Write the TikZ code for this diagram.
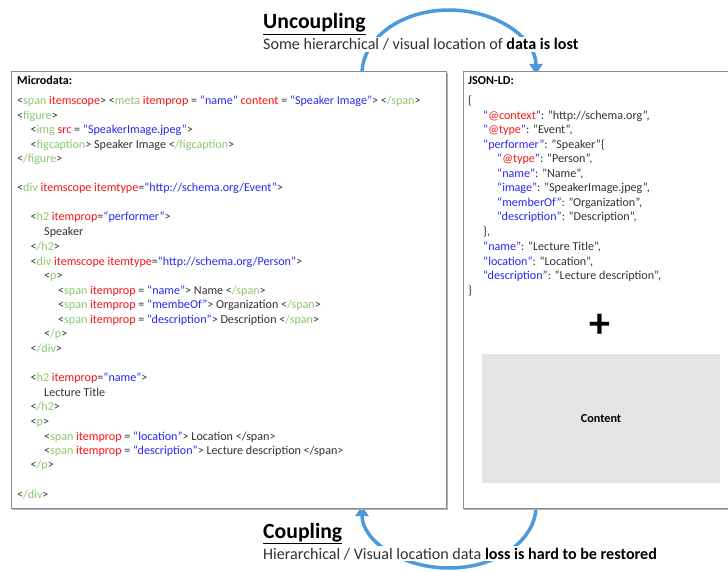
\documentclass[tikz,border=0pt]{standalone}
\usepackage{fontspec}
\setmainfont{Carlito}
\usetikzlibrary{arrows.meta}
\definecolor{tagc}{RGB}{140,200,110}
\definecolor{attc}{RGB}{250,20,20}
\definecolor{valc}{RGB}{40,40,245}
\definecolor{txtc}{RGB}{50,50,50}
\definecolor{arcc}{RGB}{75,155,220}
\definecolor{boxc}{RGB}{140,140,140}
\newcommand{\tg}[1]{\textcolor{tagc}{#1}}
\newcommand{\at}[1]{\textcolor{attc}{#1}}
\newcommand{\vl}[1]{\textcolor{valc}{#1}}
\tikzset{
  code/.style={anchor=base west, inner sep=0pt, text=txtc, font=\fontsize{12.1}{14}\selectfont},
  panel/.style={draw=boxc, line width=1pt},
  shade/.style={draw=black!30, line width=1.2pt},
  loop/.style={draw=arcc, line width=3.5pt},
  title/.style={anchor=base west, inner sep=0pt, text=black, font=\fontsize{21.7}{26}\selectfont\bfseries},
  sub/.style={anchor=base west, inner sep=1.5pt, fill=white, text=txtc, font=\fontsize{16.1}{19}\selectfont},
}
\begin{document}
\begin{tikzpicture}[x=1pt,y=-1pt]
\clip (0,0) rectangle (728,572);
\fill[white] (0,0) rectangle (728,572);
% arcs
\draw[loop,-{Triangle[width=13pt,length=10pt]}] (362,74) arc[start angle=180,end angle=360,x radius=87,y radius=64] coordinate (ua);
\draw[loop,-{Triangle[width=13pt,length=10pt]}] (536,506) arc[start angle=0,end angle=180,x radius=87,y radius=62] coordinate (la);
% panels
\draw[shade] (12,509) -- (447,509) -- (447,73);
\draw[shade] (464,509) -- (745,509);
\draw[panel,fill=white] (11,72) rectangle (446,508);
\draw[panel,fill=white] (463,72) rectangle (745,508);
\fill[black!10] (482,354) rectangle (720,483);
\node[font=\fontsize{12.2}{14}\selectfont\bfseries] (content) at (601,419) {Content};
\node[font=\fontsize{42}{44}\selectfont\bfseries] (plus) at (600,326) {+};
% titles
\node[title] (t1) at (263,29) {\underline{Uncoupling}};
\node[sub] (s1) at (261.5,50) {Some hierarchical / visual location of \textbf{\color{black}data is lost}};
\node[title] (t2) at (263,538) {\underline{Coupling}};
\node[sub] (s2) at (261.5,559) {Hierarchical / Visual location data \textbf{\color{black}loss is hard to be restored}};
% microdata
\node[code,font=\fontsize{12.1}{14}\selectfont\bfseries,text=black] (m0) at (17,85) {Microdata:};
\node[code] (m1) at (17,105) {<\tg{span} \at{itemscope}> <\tg{meta} \at{itemprop} = \vl{“name”} \at{content} = \vl{“Speaker Image”}> <\tg{/span}>};
\node[code] (m2) at (17,120) {<\tg{figure}>};
\node[code] (m3) at (30.5,134) {<\tg{img} \at{src} = \vl{“SpeakerImage.jpeg”}>};
\node[code] (m4) at (30.5,149) {<\tg{figcaption}> Speaker Image <\tg{/figcaption}>};
\node[code] (m5) at (17,163) {<\tg{/figure}>};
\node[code] (m6) at (17,192) {<\tg{div} \at{itemscope itemtype}=\vl{“http://schema.org/Event”}>};
\node[code] (m7) at (30.5,221) {<\tg{h2} \at{itemprop}=\vl{“performer”}>};
\node[code] (m8) at (44,236) {Speaker};
\node[code] (m9) at (30.5,250) {<\tg{/h2}>};
\node[code] (m10) at (30.5,265) {<\tg{div} \at{itemscope itemtype}=\vl{“http://schema.org/Person”}>};
\node[code] (m11) at (44,279) {<\tg{p}>};
\node[code] (m12) at (58,294) {<\tg{span} \at{itemprop} = \vl{“name”}> Name <\tg{/span}>};
\node[code] (m13) at (58,308) {<\tg{span} \at{itemprop} = \vl{“membeOf”}> Organization <\tg{/span}>};
\node[code] (m14) at (58,323) {<\tg{span} \at{itemprop} = \vl{“description”}> Description <\tg{/span}>};
\node[code] (m15) at (44,337) {<\tg{/p}>};
\node[code] (m16) at (30.5,352) {<\tg{/div}>};
\node[code] (m17) at (30.5,381) {<\tg{h2} \at{itemprop}=\vl{“name”}>};
\node[code] (m18) at (44,396) {Lecture Title};
\node[code] (m19) at (30.5,410) {<\tg{/h2}>};
\node[code] (m20) at (30.5,425) {<\tg{p}>};
\node[code] (m21) at (44,440) {<\tg{span} \at{itemprop} = \vl{“location”}> Location </span>};
\node[code] (m22) at (44,454) {<\tg{span} \at{itemprop} = \vl{“description”}> Lecture description </span>};
\node[code] (m23) at (30.5,468) {<\tg{/p}>};
\node[code] (m24) at (17,498) {<\tg{/div}>};
% json-ld
\node[code,font=\fontsize{12.1}{14}\selectfont\bfseries,text=black] (j0) at (468,85) {JSON-LD:};
\node[code] (j1) at (468,105) {\{};
\node[code] (j2) at (483,120) {\vl{“}\at{@context}\vl{”}: ”http://schema.org”,};
\node[code] (j3) at (483,134) {\vl{“}\at{@type}\vl{”}: “Event”,};
\node[code] (j4) at (483,149) {\vl{“performer”}: ”Speaker”\{};
\node[code] (j5) at (497,163) {\vl{“}\at{@type}\vl{”}: “Person”,};
\node[code] (j6) at (497,178) {\vl{“name”}: ”Name”,};
\node[code] (j7) at (497,192) {\vl{“image”}: ”SpeakerImage.jpeg”,};
\node[code] (j8) at (497,207) {\vl{“memberOf”}: ”Organization”,};
\node[code] (j9) at (497,221) {\vl{“description”}: ”Description”,};
\node[code] (j10) at (483,236) {\},};
\node[code] (j11) at (483,250) {\vl{“name”}: “Lecture Title”,};
\node[code] (j12) at (483,265) {\vl{“location”}: ”Location”,};
\node[code] (j13) at (483,279) {\vl{“description”}: ”Lecture description”,};
\node[code] (j14) at (468,294) {\}};
\end{tikzpicture}
\end{document}
